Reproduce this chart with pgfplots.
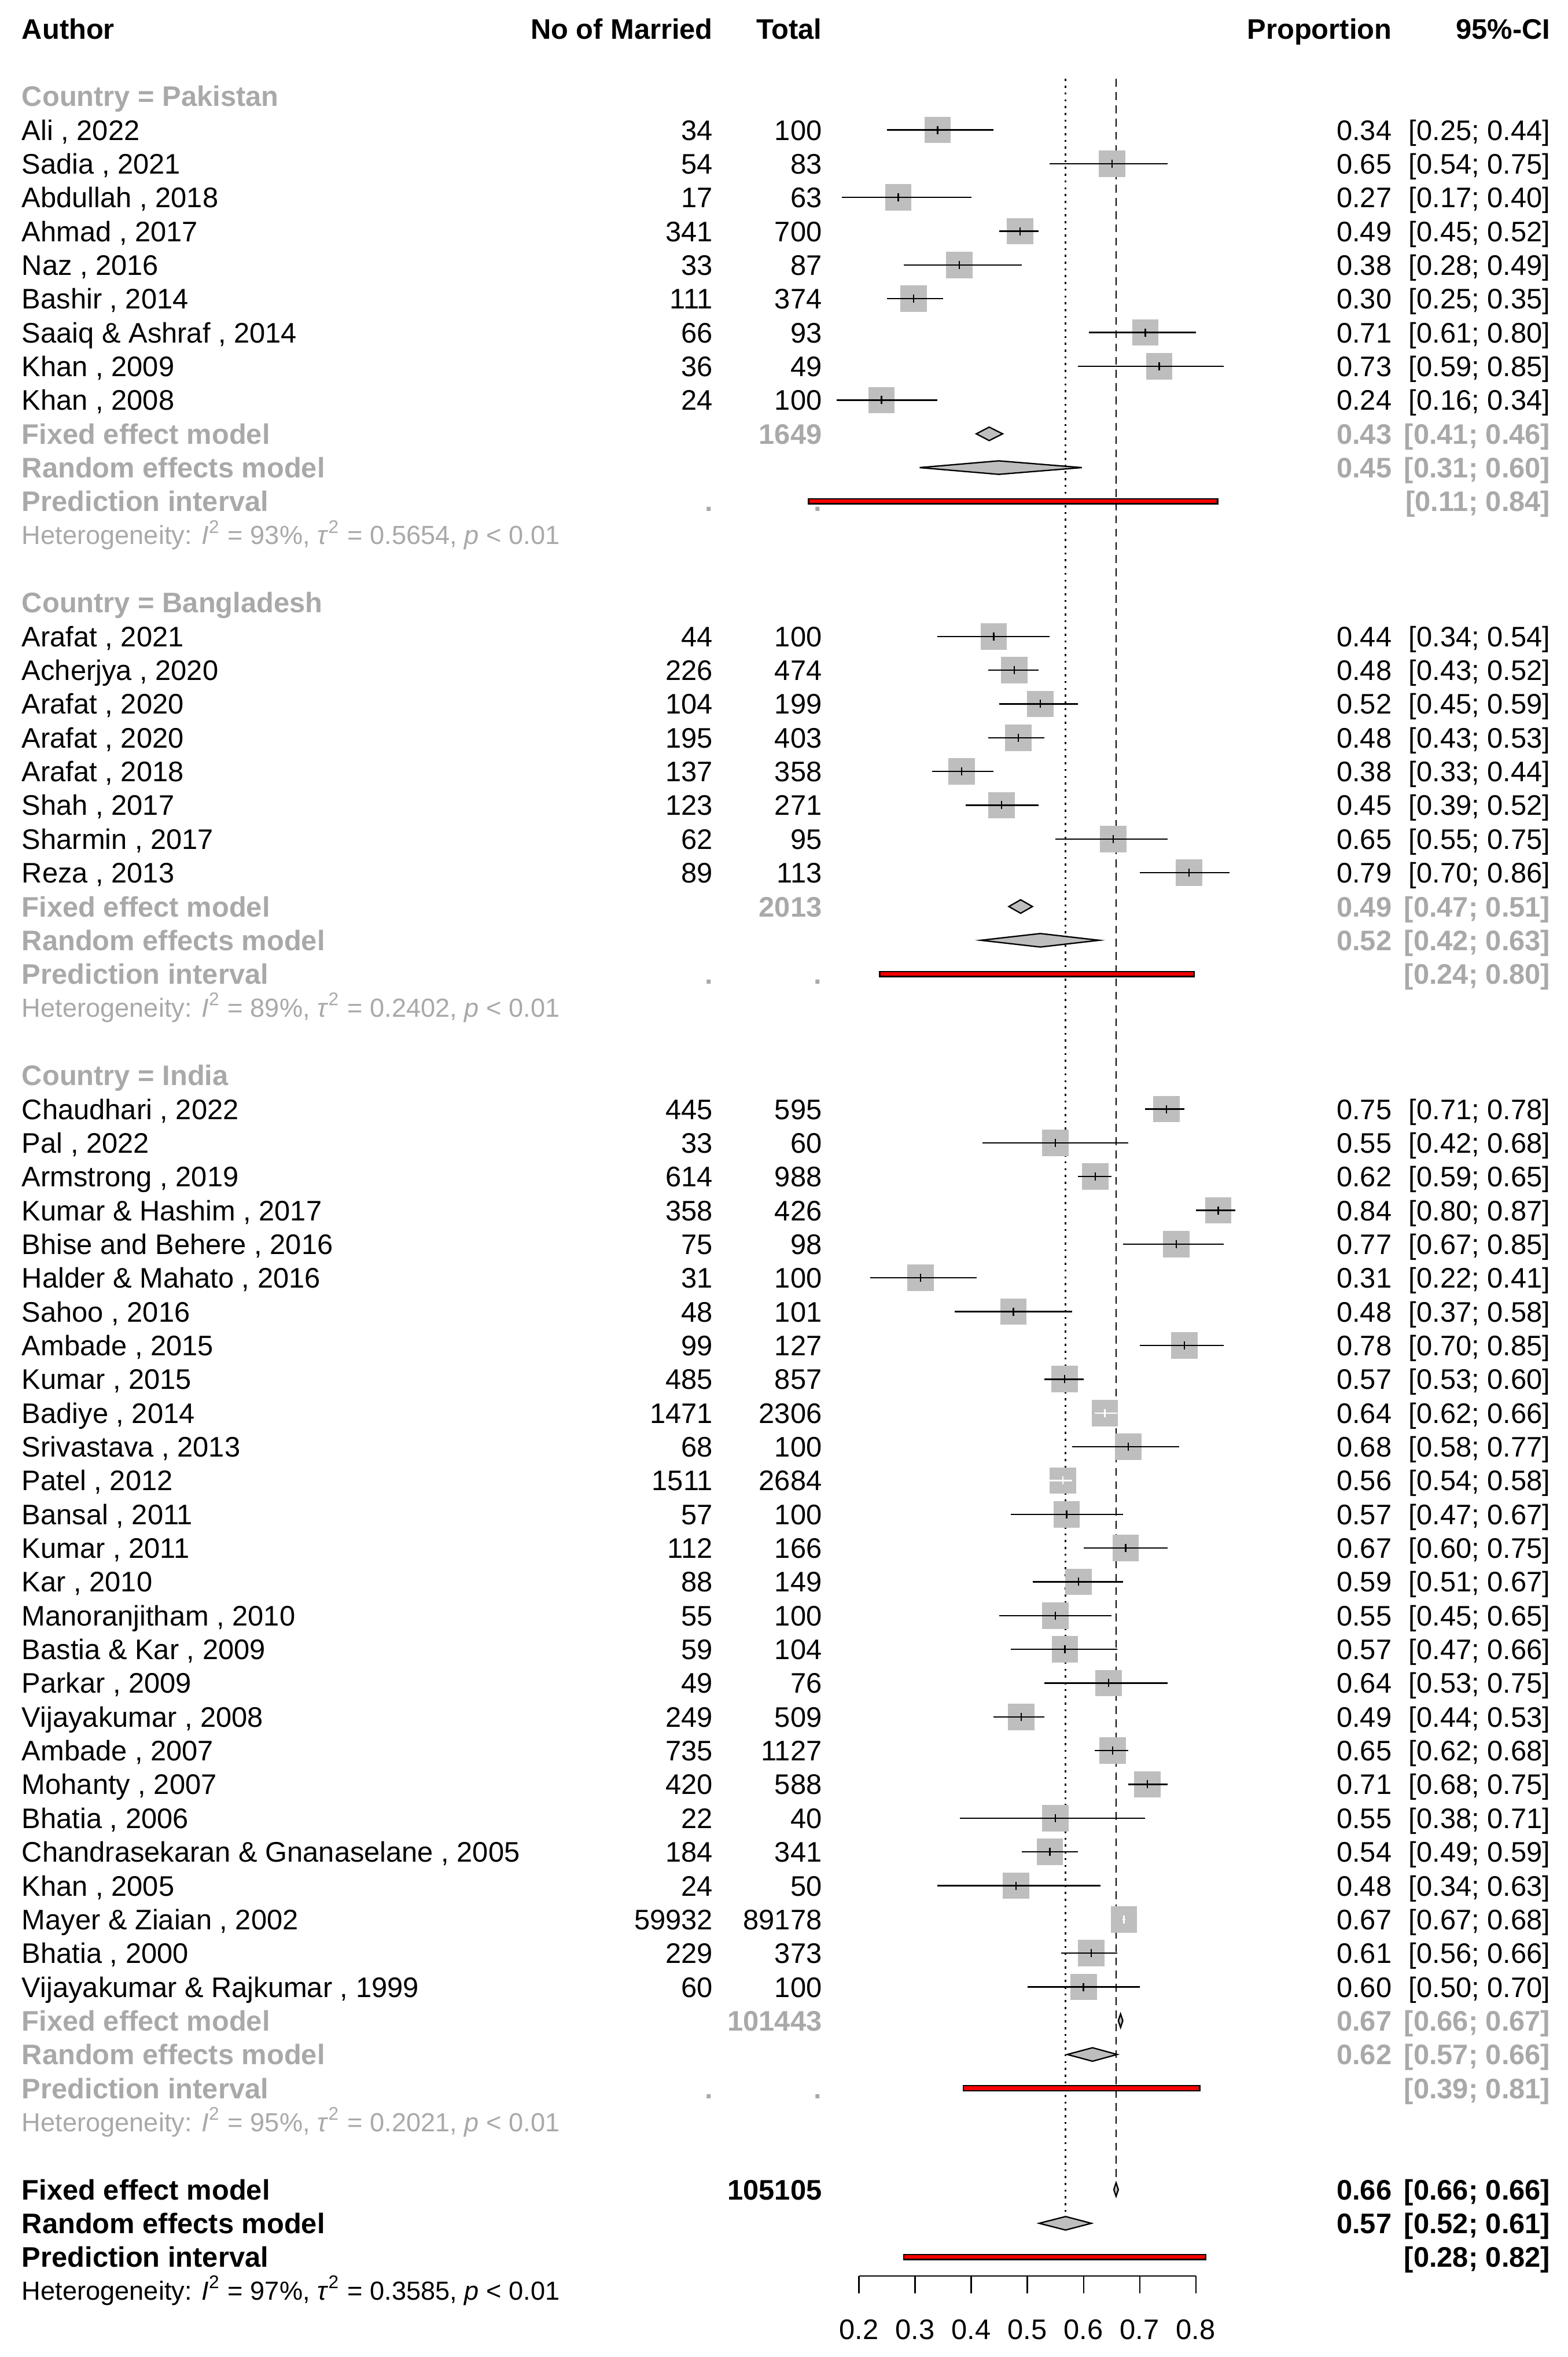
\documentclass[border=0pt]{standalone}
\usepackage{fontspec}
\setmainfont{Liberation Sans}
\usepackage{pgfplots}
\usepackage{pgfplotstable}
\pgfplotsset{compat=1.18}
\definecolor{txtgray}{HTML}{A9A9A9}
\definecolor{sqgray}{HTML}{BEBEBE}
\definecolor{predred}{HTML}{FF0000}

% study estimates (y = -row)
\pgfplotstableread{
y est lo hi
-1 0.340 0.25 0.44
-2 0.651 0.54 0.75
-3 0.270 0.17 0.40
-4 0.487 0.45 0.52
-5 0.379 0.28 0.49
-6 0.297 0.25 0.35
-7 0.710 0.61 0.80
-8 0.735 0.59 0.85
-9 0.240 0.16 0.34
-16 0.440 0.34 0.54
-17 0.477 0.43 0.52
-18 0.523 0.45 0.59
-19 0.484 0.43 0.53
-20 0.383 0.33 0.44
-21 0.454 0.39 0.52
-22 0.653 0.55 0.75
-23 0.788 0.70 0.86
-30 0.748 0.71 0.78
-31 0.550 0.42 0.68
-32 0.621 0.59 0.65
-33 0.840 0.80 0.87
-34 0.765 0.67 0.85
-35 0.310 0.22 0.41
-36 0.475 0.37 0.58
-37 0.780 0.70 0.85
-38 0.566 0.53 0.60
-40 0.680 0.58 0.77
-42 0.570 0.47 0.67
-43 0.675 0.60 0.75
-44 0.591 0.51 0.67
-45 0.550 0.45 0.65
-46 0.567 0.47 0.66
-47 0.645 0.53 0.75
-48 0.489 0.44 0.53
-49 0.652 0.62 0.68
-50 0.714 0.68 0.75
-51 0.550 0.38 0.71
-52 0.540 0.49 0.59
-53 0.480 0.34 0.63
-55 0.614 0.56 0.66
-56 0.600 0.50 0.70
}\studies
% studies whose CI lies inside the square (drawn white)
\pgfplotstableread{
y est lo hi
-39 0.638 0.62 0.66
-41 0.563 0.54 0.58
-54 0.672 0.669 0.675
}\inner

\newcommand\xA{-1.2921}
\newcommand\xN{-0.0594}
\newcommand\xT{0.1349}
\newcommand\xP{1.1500}
\newcommand\xC{1.4324}

\tikzset{
 lab/.style={anchor=base west, inner sep=0pt, yshift=-3.37pt},
 rt/.style={anchor=base east, inner sep=0pt, yshift=-3.37pt},
}
\newcommand\St[6]{%
 \node[lab] at (axis cs:\xA,#1) {#2};
 \node[rt] at (axis cs:\xN,#1) {#3};
 \node[rt] at (axis cs:\xT,#1) {#4};
 \node[rt] at (axis cs:\xP,#1) {#5};
 \node[rt] at (axis cs:\xC,#1) {#6};}
\newcommand\Sm[7]{%
 \node[lab,text=#1,font=\bfseries] at (axis cs:\xA,#2) {#3};
 \node[rt,text=#1,font=\bfseries] at (axis cs:\xN,#2) {#4};
 \node[rt,text=#1,font=\bfseries] at (axis cs:\xT,#2) {#5};
 \node[rt,text=#1,font=\bfseries] at (axis cs:\xP,#2) {#6};
 \node[rt,text=#1,font=\bfseries] at (axis cs:\xC,#2) {#7};}
\newcommand\Het[4]{%
 \node[anchor=base west, inner sep=0pt, yshift=-3.12pt, text=#1, font=\fontsize{8.7}{10}\selectfont] at (axis cs:\xA,#2)
 {Heterogeneity: \textit{I}\textsuperscript{2} = #3\%, \textit{τ}\textsuperscript{2} = #4, \textit{p} < 0.01};}

\begin{document}
\fontsize{9.4}{11.3}\selectfont
\begin{tikzpicture}
\begin{axis}[name=main, hide axis, clip=false, clip marker paths=true,
  x=186.75pt, y=11.23pt,
  xmin=-1.3301, xmax=1.4624, ymin=-66.96, ymax=2.85]
\coordinate (BL) at (rel axis cs:0,0);
\coordinate (TR) at (rel axis cs:1,1);
\coordinate (sc) at (axis cs:0.2,-64.56);

% reference lines
\addplot[black, line width=0.45pt, dash pattern=on 0.7pt off 1.55pt] coordinates {(0.568,0.51) (0.568,-63)};
\addplot[black, line width=0.45pt, dash pattern=on 2.6pt off 1.8pt] coordinates {(0.658,0.51) (0.658,-62)};

% squares
\addplot[only marks, mark=square*, mark size=4.3pt, color=sqgray,
  mark options={line width=0pt, fill=sqgray, draw=sqgray}] table[x=est,y=y] {\studies};
\addplot[only marks, mark=square*, mark size=4.3pt, color=sqgray,
  mark options={line width=0pt, fill=sqgray, draw=sqgray}] table[x=est,y=y] {\inner};

% confidence intervals
\addplot[draw=none, mark=none,
  error bars/.cd, x dir=both, x explicit, y dir=both, y fixed=0.12, error mark=none,
  error bar style={draw=black, solid, line width=0.45pt}]
  table[x=est, y=y, x error plus expr=\thisrow{hi}-\thisrow{est}, x error minus expr=\thisrow{est}-\thisrow{lo}] {\studies};
\addplot[draw=none, mark=none,
  error bars/.cd, x dir=both, x explicit, y dir=both, y fixed=0.12, error mark=none,
  error bar style={draw=white, solid, line width=0.45pt}]
  table[x=est, y=y, x error plus expr=\thisrow{hi}-\thisrow{est}, x error minus expr=\thisrow{est}-\thisrow{lo}] {\inner};

% summary diamonds
\addplot[fill=sqgray, draw=black, line width=0.45pt] coordinates {(0.409,-10) (0.432,-9.8) (0.456,-10) (0.432,-10.2)} -- cycle;
\addplot[fill=sqgray, draw=black, line width=0.45pt] coordinates {(0.308,-11) (0.449,-10.8) (0.597,-11) (0.449,-11.2)} -- cycle;
\addplot[fill=sqgray, draw=black, line width=0.45pt] coordinates {(0.467,-24) (0.488,-23.8) (0.509,-24) (0.488,-24.2)} -- cycle;
\addplot[fill=sqgray, draw=black, line width=0.45pt] coordinates {(0.417,-25) (0.523,-24.8) (0.628,-25) (0.523,-25.2)} -- cycle;
\addplot[fill=sqgray, draw=black, line width=0.45pt] coordinates {(0.662,-57) (0.666,-56.8) (0.670,-57) (0.666,-57.2)} -- cycle;
\addplot[fill=sqgray, draw=black, line width=0.45pt] coordinates {(0.571,-58) (0.616,-57.8) (0.660,-58) (0.616,-58.2)} -- cycle;
\addplot[fill=sqgray, draw=black, line width=0.45pt] coordinates {(0.654,-62) (0.658,-61.8) (0.662,-62) (0.658,-62.2)} -- cycle;
\addplot[fill=sqgray, draw=black, line width=0.45pt] coordinates {(0.521,-63) (0.568,-62.8) (0.614,-63) (0.568,-63.2)} -- cycle;

% prediction intervals
\addplot[fill=predred, draw=black, line width=0.5pt] coordinates {(0.110,-12.075) (0.839,-12.075) (0.839,-11.925) (0.110,-11.925)} -- cycle;
\addplot[fill=predred, draw=black, line width=0.5pt] coordinates {(0.237,-26.075) (0.797,-26.075) (0.797,-25.925) (0.237,-25.925)} -- cycle;
\addplot[fill=predred, draw=black, line width=0.5pt] coordinates {(0.386,-59.075) (0.807,-59.075) (0.807,-58.925) (0.386,-58.925)} -- cycle;
\addplot[fill=predred, draw=black, line width=0.5pt] coordinates {(0.280,-64.075) (0.818,-64.075) (0.818,-63.925) (0.280,-63.925)} -- cycle;

% header
\node[lab,font=\bfseries] at (axis cs:\xA,2) {Author};
\node[rt,font=\bfseries] at (axis cs:\xN,2) {No of Married};
\node[rt,font=\bfseries] at (axis cs:\xT,2) {Total};
\node[rt,font=\bfseries] at (axis cs:\xP,2) {Proportion};
\node[rt,font=\bfseries] at (axis cs:\xC,2) {95\%-CI};

% Pakistan
\node[lab,font=\bfseries,text=txtgray] at (axis cs:\xA,0) {Country = Pakistan};
\St{-1}{Ali , 2022}{34}{100}{0.34}{[0.25; 0.44]}
\St{-2}{Sadia , 2021}{54}{83}{0.65}{[0.54; 0.75]}
\St{-3}{Abdullah , 2018}{17}{63}{0.27}{[0.17; 0.40]}
\St{-4}{Ahmad , 2017}{341}{700}{0.49}{[0.45; 0.52]}
\St{-5}{Naz , 2016}{33}{87}{0.38}{[0.28; 0.49]}
\St{-6}{Bashir , 2014}{111}{374}{0.30}{[0.25; 0.35]}
\St{-7}{Saaiq \& Ashraf , 2014}{66}{93}{0.71}{[0.61; 0.80]}
\St{-8}{Khan , 2009}{36}{49}{0.73}{[0.59; 0.85]}
\St{-9}{Khan , 2008}{24}{100}{0.24}{[0.16; 0.34]}
\Sm{txtgray}{-10}{Fixed effect model}{}{1649}{0.43}{[0.41; 0.46]}
\Sm{txtgray}{-11}{Random effects model}{}{}{0.45}{[0.31; 0.60]}
\Sm{txtgray}{-12}{Prediction interval}{.}{.}{}{[0.11; 0.84]}
\Het{txtgray}{-13}{93}{0.5654}

% Bangladesh
\node[lab,font=\bfseries,text=txtgray] at (axis cs:\xA,-15) {Country = Bangladesh};
\St{-16}{Arafat , 2021}{44}{100}{0.44}{[0.34; 0.54]}
\St{-17}{Acherjya , 2020}{226}{474}{0.48}{[0.43; 0.52]}
\St{-18}{Arafat , 2020}{104}{199}{0.52}{[0.45; 0.59]}
\St{-19}{Arafat , 2020}{195}{403}{0.48}{[0.43; 0.53]}
\St{-20}{Arafat , 2018}{137}{358}{0.38}{[0.33; 0.44]}
\St{-21}{Shah , 2017}{123}{271}{0.45}{[0.39; 0.52]}
\St{-22}{Sharmin , 2017}{62}{95}{0.65}{[0.55; 0.75]}
\St{-23}{Reza , 2013}{89}{113}{0.79}{[0.70; 0.86]}
\Sm{txtgray}{-24}{Fixed effect model}{}{2013}{0.49}{[0.47; 0.51]}
\Sm{txtgray}{-25}{Random effects model}{}{}{0.52}{[0.42; 0.63]}
\Sm{txtgray}{-26}{Prediction interval}{.}{.}{}{[0.24; 0.80]}
\Het{txtgray}{-27}{89}{0.2402}

% India
\node[lab,font=\bfseries,text=txtgray] at (axis cs:\xA,-29) {Country = India};
\St{-30}{Chaudhari , 2022}{445}{595}{0.75}{[0.71; 0.78]}
\St{-31}{Pal , 2022}{33}{60}{0.55}{[0.42; 0.68]}
\St{-32}{Armstrong , 2019}{614}{988}{0.62}{[0.59; 0.65]}
\St{-33}{Kumar \& Hashim , 2017}{358}{426}{0.84}{[0.80; 0.87]}
\St{-34}{Bhise and Behere , 2016}{75}{98}{0.77}{[0.67; 0.85]}
\St{-35}{Halder \& Mahato , 2016}{31}{100}{0.31}{[0.22; 0.41]}
\St{-36}{Sahoo , 2016}{48}{101}{0.48}{[0.37; 0.58]}
\St{-37}{Ambade , 2015}{99}{127}{0.78}{[0.70; 0.85]}
\St{-38}{Kumar , 2015}{485}{857}{0.57}{[0.53; 0.60]}
\St{-39}{Badiye , 2014}{1471}{2306}{0.64}{[0.62; 0.66]}
\St{-40}{Srivastava , 2013}{68}{100}{0.68}{[0.58; 0.77]}
\St{-41}{Patel , 2012}{1511}{2684}{0.56}{[0.54; 0.58]}
\St{-42}{Bansal , 2011}{57}{100}{0.57}{[0.47; 0.67]}
\St{-43}{Kumar , 2011}{112}{166}{0.67}{[0.60; 0.75]}
\St{-44}{Kar , 2010}{88}{149}{0.59}{[0.51; 0.67]}
\St{-45}{Manoranjitham , 2010}{55}{100}{0.55}{[0.45; 0.65]}
\St{-46}{Bastia \& Kar , 2009}{59}{104}{0.57}{[0.47; 0.66]}
\St{-47}{Parkar , 2009}{49}{76}{0.64}{[0.53; 0.75]}
\St{-48}{Vijayakumar , 2008}{249}{509}{0.49}{[0.44; 0.53]}
\St{-49}{Ambade , 2007}{735}{1127}{0.65}{[0.62; 0.68]}
\St{-50}{Mohanty , 2007}{420}{588}{0.71}{[0.68; 0.75]}
\St{-51}{Bhatia , 2006}{22}{40}{0.55}{[0.38; 0.71]}
\St{-52}{Chandrasekaran \& Gnanaselane , 2005}{184}{341}{0.54}{[0.49; 0.59]}
\St{-53}{Khan , 2005}{24}{50}{0.48}{[0.34; 0.63]}
\St{-54}{Mayer \& Ziaian , 2002}{59932}{89178}{0.67}{[0.67; 0.68]}
\St{-55}{Bhatia , 2000}{229}{373}{0.61}{[0.56; 0.66]}
\St{-56}{Vijayakumar \& Rajkumar , 1999}{60}{100}{0.60}{[0.50; 0.70]}
\Sm{txtgray}{-57}{Fixed effect model}{}{101443}{0.67}{[0.66; 0.67]}
\Sm{txtgray}{-58}{Random effects model}{}{}{0.62}{[0.57; 0.66]}
\Sm{txtgray}{-59}{Prediction interval}{.}{.}{}{[0.39; 0.81]}
\Het{txtgray}{-60}{95}{0.2021}

% Overall
\Sm{black}{-62}{Fixed effect model}{}{105105}{0.66}{[0.66; 0.66]}
\Sm{black}{-63}{Random effects model}{}{}{0.57}{[0.52; 0.61]}
\Sm{black}{-64}{Prediction interval}{}{}{}{[0.28; 0.82]}
\Het{black}{-65}{97}{0.3585}
\end{axis}

\begin{axis}[at={(sc)}, anchor=south west,
  x=186.75pt, y=11.23pt, xmin=0.2, xmax=0.8, ymin=0, ymax=1,
  axis x line=bottom, axis y line=none,
  axis line style={-, black, line width=0.45pt},
  xtick={0.2,0.3,0.4,0.5,0.6,0.7,0.8},
  xticklabels={0.2,0.3,0.4,0.5,0.6,0.7,0.8},
  tick align=outside, major tick length=5.7pt,
  every tick/.style={black, line width=0.45pt},
  xticklabel style={inner sep=0pt, anchor=north, yshift=-8.6pt},
  ytick=\empty, clip=false]
\end{axis}

\pgfresetboundingbox
\path[use as bounding box] (BL) rectangle (TR);
\end{tikzpicture}
\end{document}
